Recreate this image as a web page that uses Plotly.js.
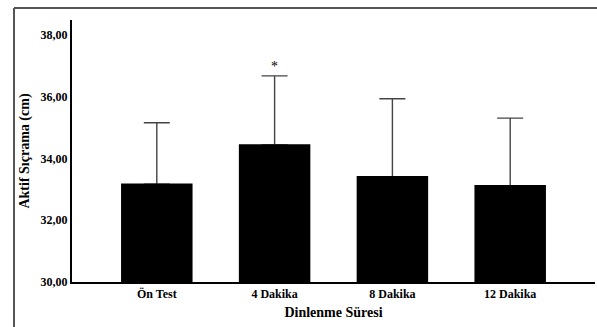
<!DOCTYPE html>
<html>
<head>
<meta charset="utf-8">
<script src="https://cdn.plot.ly/plotly-3.0.1.min.js"></script>
<style>
html,body{margin:0;padding:0;background:#fff;}
#chart{width:597px;height:327px;}
</style>
</head>
<body>
<div id="chart"></div>
<script>
var categories = ["Ön Test", "4 Dakika", "8 Dakika", "12 Dakika"];
var means = [33.17, 34.44, 33.41, 33.12];
var sdUpper = [1.99, 2.24, 2.53, 2.19];
var significance = ["", "*", "", ""];
var yTickVals = [30, 32, 34, 36, 38];
var yTickText = ["30,00", "32,00", "34,00", "36,00", "38,00"];

var serif = "Liberation Serif";

var errTrace = {
  type: "bar",
  x: categories,
  y: means,
  marker: {color: "#000000", line: {width: 0}},
  error_y: {
    type: "data",
    symmetric: false,
    array: sdUpper,
    arrayminus: means.map(function(){return 0;}),
    color: "#444444",
    thickness: 1.4,
    width: 13
  },
  hoverinfo: "skip"
};
var barTrace = {
  type: "bar",
  x: categories,
  y: means,
  marker: {color: "#000000", line: {color: "#000000", width: 1.5}},
  hoverinfo: "skip"
};

var annotations = [];
categories.forEach(function(c, i){
  if (significance[i]) {
    annotations.push({
      x: c, y: means[i] + sdUpper[i], xref: "x", yref: "y",
      text: significance[i], showarrow: false, yshift: 9,
      font: {family: serif, size: 14, color: "#000000"}
    });
  }
});

var layout = {
  width: 597, height: 327,
  font: {family: serif},
  margin: {l: 72, r: 2, t: 20, b: 45},
  paper_bgcolor: "#fff", plot_bgcolor: "#fff",
  showlegend: false,
  barmode: "overlay",
  bargap: 0.406,
  xaxis: {
    type: "category",
    range: [-0.72, 3.72],
    showline: true, linecolor: "#000", linewidth: 2,
    ticks: "", showgrid: false, zeroline: false,
    tickfont: {family: serif, size: 12, color: "#000", weight: "bold"},
    title: {text: "Dinlenme Süresi", font: {family: serif, size: 14, color: "#000", weight: "bold"}, standoff: 7}
  },
  yaxis: {
    range: [30, 38.49],
    showline: true, linecolor: "#000", linewidth: 2,
    ticks: "", showgrid: false, zeroline: false,
    tickvals: yTickVals, ticktext: yTickText,
    tickfont: {family: serif, size: 12, color: "#000", weight: "bold"},
    title: {text: "Aktif Sıçrama (cm)", font: {family: serif, size: 14, color: "#000", weight: "bold"}, standoff: 8}
  },
  annotations: annotations,
  shapes: [
    {type: "line", xref: "paper", yref: "paper", x0: -0.1109, x1: -0.1109, y0: 1.0458, y1: -0.3, line: {color: "#555", width: 2}},
    {type: "line", xref: "paper", yref: "paper", x0: -0.1109, x1: 1.1, y0: 1.0458, y1: 1.0458, line: {color: "#555", width: 2}}
  ]
};

Plotly.newPlot("chart", [errTrace, barTrace], layout, {displayModeBar: false, staticPlot: true});
</script>
</body>
</html>
